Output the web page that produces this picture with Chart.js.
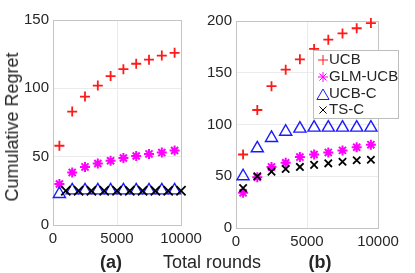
<!DOCTYPE html>
<html>
<head>
<meta charset="utf-8">
<script src="https://cdn.jsdelivr.net/npm/chart.js@4.4.1/dist/chart.umd.min.js"></script>
<style>
  body { margin: 0; background: #fff; }
  #wrap { position: relative; width: 415px; height: 273px; overflow: hidden; font-family: "Liberation Sans", Arial, sans-serif; color: #262626; }
  canvas { position: absolute; top: 0; }
  .lbl { position: absolute; font-size: 18px; line-height: 18px; white-space: nowrap; transform: translate(-50%, -50%); }
  .ylbl { transform: translate(-50%, -50%) rotate(-90deg); }
</style>
</head>
<body>
<div id="wrap">
  <canvas id="chartA" width="210" height="273" style="left:0px"></canvas>
  <canvas id="chartB" width="215" height="273" style="left:200px"></canvas>
  <div class="lbl ylbl" style="left:12px; top:127px">Cumulative Regret</div>
  <div class="lbl" style="left:111px; top:262px; font-weight:bold">(a)</div>
  <div class="lbl" style="left:212px; top:262px">Total rounds</div>
  <div class="lbl" style="left:320px; top:262px; font-weight:bold">(b)</div>
</div>
<script>
// x positions
const rounds = [500, 1500, 2500, 3500, 4500, 5500, 6500, 7500, 8500, 9500];
const roundsTsA = [1000, 2000, 3000, 4000, 5000, 6000, 7000, 8000, 9000, 10000];

// panel (a)
const ucbA = [58, 83, 94, 102, 109, 114, 118, 121, 124, 126];
const glmA = [30, 38.5, 42.5, 45, 47, 49, 50.5, 52, 53, 54.5];
const ucbcA = [22.7, 25.3, 25.3, 25.3, 25.3, 25.3, 25.3, 25.3, 25.3, 25.3];
const tscA = [25, 25, 25, 25, 25, 25, 25, 25, 25, 25];

// panel (b)
const ucbB = [71, 114, 137, 153, 163, 173, 182, 188, 193, 198];
const glmB = [34, 49, 59, 63, 68.5, 71, 73, 75, 78, 80.5];
const ucbcB = [50, 77, 87, 93, 96, 97, 97, 97, 97, 97];
const tscB = [38.5, 50, 54.5, 57, 59, 61, 62.5, 64, 65.5, 66];

const ticksA = [0, 50, 100, 150];
const ticksB = [0, 50, 100, 150, 200];
const xTicks = [0, 5000, 10000];

const textColor = "#262626";
const gridColor = "#ebebeb";
const boxColor = "#c4c4c4";
const fontFam = "'Liberation Sans', Arial, sans-serif";

function pts(xs, ys) {
  return xs.map((x, i) => ({ x: x, y: ys[i] }));
}

function makeSets(ucb, glm, ucbc, tsc, tsX, sz) {
  return [
    { label: "UCB", data: pts(rounds, ucb), pointStyle: "cross", pointRadius: 5,
      borderColor: "#ff1a1a", pointBorderWidth: 1.8, order: 4 },
    { label: "GLM-UCB", data: pts(rounds, glm), pointStyle: "star", pointRadius: 5,
      borderColor: "#ff00ff", pointBorderWidth: 2, order: 3 },
    { label: "UCB-C", data: pts(rounds, ucbc), pointStyle: "triangle", pointRadius: 7,
      borderColor: "#1a1aff", pointBorderWidth: 1.4, order: 2 },
    { label: "TS-C", data: pts(tsX, tsc), pointStyle: "crossRot", pointRadius: sz,
      borderColor: "#000000", pointBorderWidth: 1.8, order: 1 }
  ].map(d => Object.assign(d, {
    showLine: false, backgroundColor: "rgba(0,0,0,0)", pointBackgroundColor: "rgba(0,0,0,0)",
    pointHoverRadius: d.pointRadius, clip: false
  }));
}

// box round the plot area
const boxPlugin = {
  id: "box",
  beforeDatasetsDraw(chart) {
    const a = chart.chartArea;
    const ctx = chart.ctx;
    ctx.save();
    ctx.strokeStyle = boxColor;
    ctx.lineWidth = 1;
    ctx.strokeRect(Math.round(a.left) + 0.5, Math.round(a.top) + 0.5,
      Math.round(a.right - a.left), Math.round(a.bottom - a.top));
    ctx.restore();
  }
};

// legend box inside panel (b)
const legendPlugin = {
  id: "boxLegend",
  afterDraw(chart, args, opts) {
    if (!opts.show) return;
    const ctx = chart.ctx;
    const x0 = 113.5, y0 = 50.5, w = 85, h = 68;
    ctx.save();
    ctx.fillStyle = "#ffffff";
    ctx.fillRect(x0, y0, w, h);
    ctx.strokeStyle = "#bdbdbd";
    ctx.lineWidth = 1;
    ctx.strokeRect(x0, y0, w, h);
    ctx.font = "15px " + fontFam;
    ctx.textBaseline = "middle";
    const rows = [60, 77, 94, 110];
    const radii = [5, 5, 7, 5];
    chart.data.datasets.forEach((d, i) => {
      const y = rows[i];
      ctx.strokeStyle = d.borderColor;
      ctx.fillStyle = "rgba(0,0,0,0)";
      Chart.helpers.drawPoint(ctx, {
        pointStyle: d.pointStyle, radius: radii[i], rotation: 0,
        borderWidth: d.pointBorderWidth
      }, 123, i === 2 ? y + 2 : y);
      ctx.fillStyle = textColor;
      ctx.fillText(d.label, 129, y);
    });
    ctx.restore();
  }
};

function makeChart(id, sets, yMax, yTicks, yWidth, xHeight, pad, showLegend) {
  return new Chart(document.getElementById(id), {
    type: "scatter",
    data: { datasets: sets },
    options: {
      responsive: false,
      animation: false,
      devicePixelRatio: 1,
      layout: { padding: pad },
      plugins: {
        legend: { display: false },
        tooltip: { enabled: false },
        boxLegend: { show: showLegend }
      },
      scales: {
        x: {
          type: "linear", min: 0, max: 10000,
          afterBuildTicks: s => { s.ticks = xTicks.map(v => ({ value: v })); },
          afterFit: s => { s.height = xHeight; },
          ticks: { color: textColor, font: { size: 15, family: fontFam },
                   padding: 5, maxRotation: 0, autoSkip: false,
                   callback: v => String(v) },
          grid: { color: gridColor, drawTicks: false },
          border: { display: false }
        },
        y: {
          type: "linear", min: 0, max: yMax,
          afterBuildTicks: s => { s.ticks = yTicks.map(v => ({ value: v })); },
          afterFit: s => { s.width = yWidth; },
          ticks: { color: textColor, font: { size: 15, family: fontFam },
                   padding: 4, callback: v => String(v) },
          grid: { color: gridColor, drawTicks: false },
          border: { display: false }
        }
      }
    },
    plugins: [boxPlugin, legendPlugin]
  });
}

makeChart("chartA", makeSets(ucbA, glmA, ucbcA, tscA, roundsTsA, 6.5), 150, ticksA, 53, 48,
  { top: 20, left: 0, right: 29, bottom: 0 }, false);
makeChart("chartB", makeSets(ucbB, glmB, ucbcB, tscB, rounds, 5.2), 200, ticksB, 36, 45,
  { top: 21, left: 0, right: 37, bottom: 0 }, true);
</script>
</body>
</html>
